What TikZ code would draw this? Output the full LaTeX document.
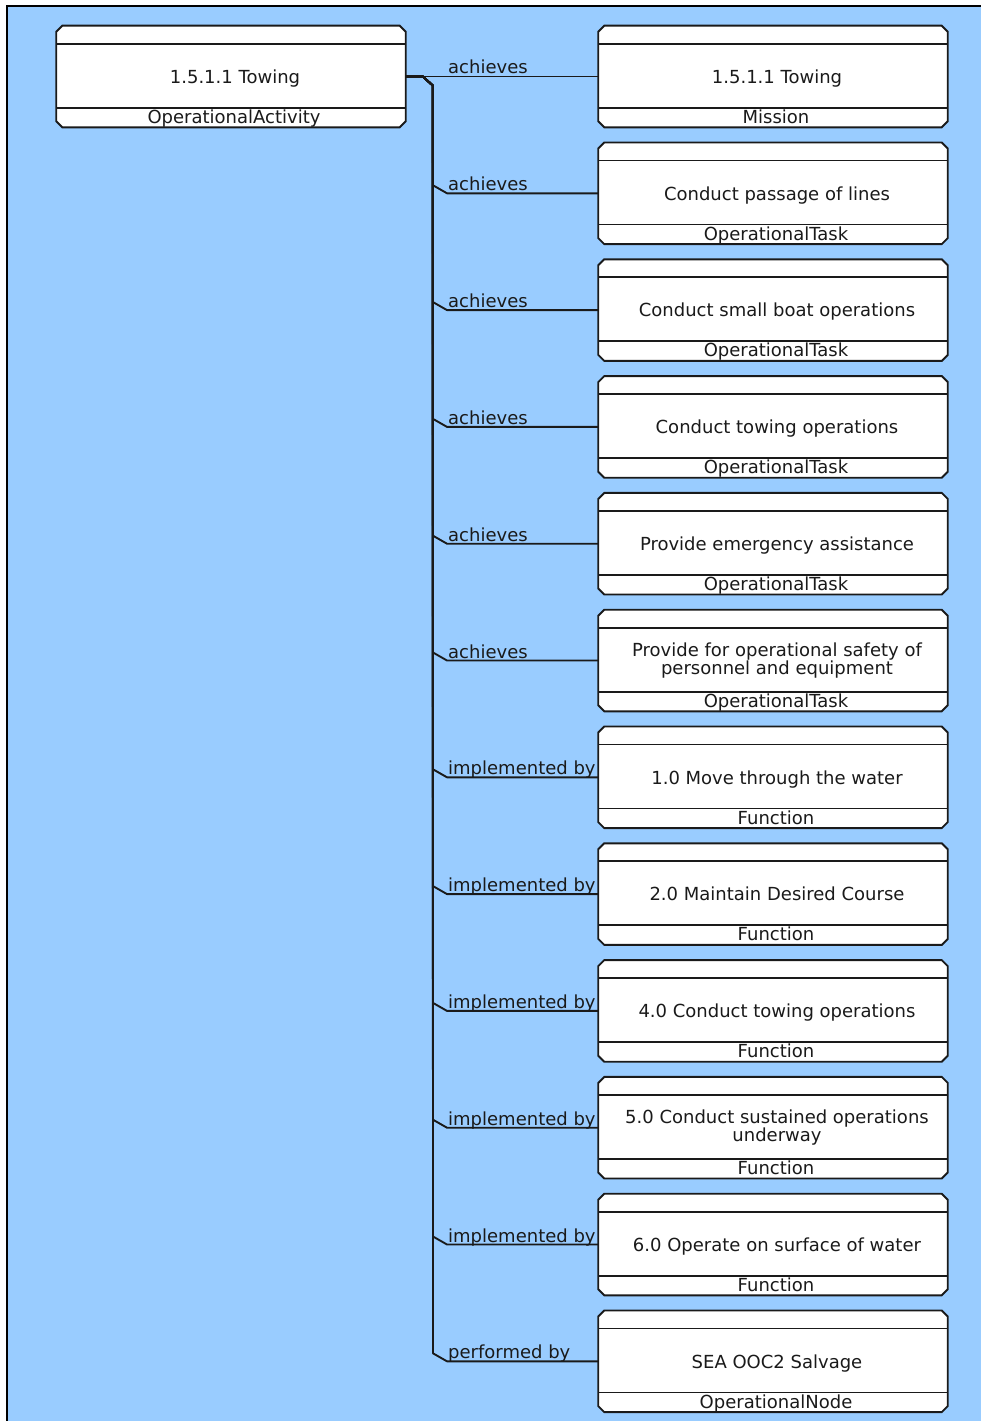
\documentclass[tikz,border=0pt]{standalone}
\usepackage{fontspec}
\setmainfont{DejaVu Sans}
\usetikzlibrary{calc}

\definecolor{canvas}{HTML}{99CCFF}
\definecolor{ink}{HTML}{1A1A1A}

\newcommand{\labelfont}{\fontsize{18}{14.5}\selectfont}

\tikzset{
  boxframe/.style={rectangle, draw=none, minimum width=349.5pt, minimum height=101.6pt, inner sep=0pt, outer sep=0pt},
  boxline/.style={line width=1.9pt, draw=ink, line join=miter},
  titletext/.style={anchor=base, align=center, inner sep=0pt, text=ink, font=\labelfont},
  typetext/.style={anchor=base, inner sep=0pt, text=ink, font=\labelfont},
  conn/.style={line width=1.9pt, draw=ink, line join=round},
  reltext/.style={anchor=base west, inner sep=0pt, text=ink, font=\labelfont},
}

% element box: name, x, y (centre), title, type, baseline drop of the title
\newcommand{\objbox}[6]{%
  \node[boxframe] (#1) at (#2,#3) {};
  \filldraw[boxline, fill=white]
    ([xshift=6pt]#1.north west) -- ([xshift=-6pt]#1.north east)
    -- ([yshift=-6pt]#1.north east) -- ([yshift=6pt]#1.south east)
    -- ([xshift=-6pt]#1.south east) -- ([xshift=6pt]#1.south west)
    -- ([yshift=6pt]#1.south west) -- ([yshift=-6pt]#1.north west) -- cycle;
  \draw[boxline] ([yshift=-18pt]#1.north west) -- ([yshift=-18pt]#1.north east);
  \draw[boxline] ([yshift=19.6pt]#1.south west) -- ([yshift=19.6pt]#1.south east);
  \node[titletext] (#1-title) at ([xshift=4pt,yshift=-#6pt]#1.center) {#4};
  \node[typetext] (#1-type) at ([xshift=3pt,yshift=4pt]#1.south) {#5};
}

\begin{document}
\begin{tikzpicture}[x=1pt, y=-1pt]
\useasboundingbox (0,0) rectangle (981,1421);

% canvas with its frame
\fill[canvas] (7,6) rectangle (981,1421);
\draw[line width=2.5pt, black] (7,1421) -- (7,6) -- (981,6);

% source element
\objbox{src}{231}{76.5}{1.5.1.1 Towing}{OperationalActivity}{6.8}

% related elements
\objbox{t1}{773}{76.5}{1.5.1.1 Towing}{Mission}{6.8}
\objbox{t2}{773}{193.3}{Conduct passage of lines}{OperationalTask}{6.8}
\objbox{t3}{773}{310.1}{Conduct small boat operations}{OperationalTask}{6.8}
\objbox{t4}{773}{426.9}{Conduct towing operations}{OperationalTask}{6.8}
\objbox{t5}{773}{543.7}{Provide emergency assistance}{OperationalTask}{6.8}
\objbox{t6}{773}{660.5}{Provide for operational safety of\\personnel and equipment}{OperationalTask}{14}
\objbox{t7}{773}{777.3}{1.0 Move through the water}{Function}{6.8}
\objbox{t8}{773}{894.1}{2.0 Maintain Desired Course}{Function}{6.8}
\objbox{t9}{773}{1010.9}{4.0 Conduct towing operations}{Function}{6.8}
\objbox{t10}{773}{1127.7}{5.0 Conduct sustained operations\\underway}{Function}{14}
\objbox{t11}{773}{1244.5}{6.0 Operate on surface of water}{Function}{6.8}
\objbox{t12}{773}{1361.3}{SEA OOC2 Salvage}{OperationalNode}{6.8}

% shared vertical bus
\coordinate (trunk) at (433,0);

% first relation runs straight across
\draw[conn] (src.east) -- (t1.west);
\node[reltext] (r1) at ($(trunk |- t1.west)+(15,-2.5)$) {achieves};

% remaining relations branch off the bus
\foreach \t/\r in {t2/achieves, t3/achieves, t4/achieves, t5/achieves, t6/achieves,
                   t7/implemented by, t8/implemented by, t9/implemented by,
                   t10/implemented by, t11/implemented by, t12/performed by}{
  \draw[conn] (src.east) -- ++(17,0) -- ++(10,9)
    -- ($(trunk |- \t.west)+(0,-8)$) -- ++(14,8) -- (\t.west);
  \node[reltext] (r-\t) at ($(trunk |- \t.west)+(15,-2.5)$) {\r};
}
\end{tikzpicture}
\end{document}
